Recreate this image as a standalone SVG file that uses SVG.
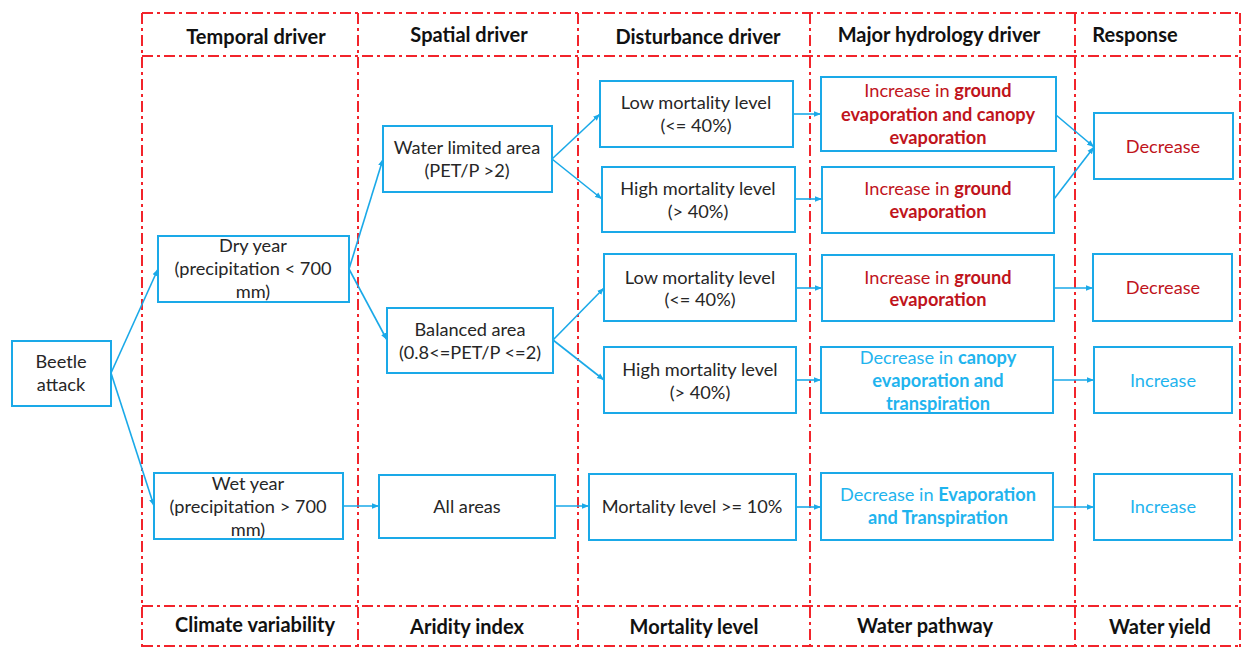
<svg xmlns="http://www.w3.org/2000/svg" width="1243" height="648" viewBox="0 0 1243 648">
<defs>
<marker id="arr" viewBox="0 0 10 10" refX="10" refY="5" markerWidth="7" markerHeight="7" markerUnits="userSpaceOnUse" orient="auto">
<path d="M0,1 L10,5 L0,9 z" fill="#1AA9E8"/>
</marker>
<style>
.grid{stroke:#F2242B;stroke-width:2;fill:none;stroke-dasharray:11 4 3 4}
.box{fill:#fff;stroke:#1AA9E8;stroke-width:2}
.t{font-family:Lato,"Liberation Sans",sans-serif;font-size:18.2px;fill:#262626;text-anchor:middle}
.h{font-family:Lato,"Liberation Sans",sans-serif;font-size:20px;font-weight:bold;fill:#111;text-anchor:middle}
.r{fill:#C0141C}
.b{fill:#1FB4EE}
.bd{font-weight:bold}
.c{stroke:#1AA9E8;stroke-width:1.6;fill:none;marker-end:url(#arr)}
</style>
</defs>
<rect width="1243" height="648" fill="#fff"/>
<g id="grid">
<line class="grid" x1="142" y1="13" x2="1240" y2="13"/>
<line class="grid" x1="142" y1="56" x2="1240" y2="56"/>
<line class="grid" x1="142" y1="606" x2="1240" y2="606"/>
<line class="grid" x1="142" y1="646" x2="1240" y2="646"/>
<line class="grid" x1="142" y1="13" x2="142" y2="648"/>
<line class="grid" x1="358" y1="13" x2="358" y2="648"/>
<line class="grid" x1="578" y1="13" x2="578" y2="648"/>
<line class="grid" x1="810" y1="13" x2="810" y2="648"/>
<line class="grid" x1="1075" y1="13" x2="1075" y2="648"/>
<line class="grid" x1="1240" y1="13" x2="1240" y2="648"/>
</g>
<g id="headers">
<text class="h" x="256" y="44">Temporal driver</text>
<text class="h" x="469" y="42">Spatial driver</text>
<text class="h" x="698" y="44">Disturbance driver</text>
<text class="h" x="939" y="42">Major hydrology driver</text>
<text class="h" x="1135" y="42">Response</text>
<text class="h" x="255" y="632">Climate variability</text>
<text class="h" x="467" y="634">Aridity index</text>
<text class="h" x="694" y="634">Mortality level</text>
<text class="h" x="925" y="633">Water pathway</text>
<text class="h" x="1160" y="634">Water yield</text>
</g>
<g id="connectors">
<line class="c" x1="111" y1="373" x2="158" y2="269"/>
<line class="c" x1="111" y1="373" x2="154" y2="506"/>
<line class="c" x1="349" y1="269" x2="383" y2="159"/>
<line class="c" x1="349" y1="269" x2="387" y2="340"/>
<line class="c" x1="343" y1="506" x2="379" y2="506"/>
<line class="c" x1="552" y1="159" x2="600" y2="114"/>
<line class="c" x1="552" y1="159" x2="602" y2="199"/>
<line class="c" x1="553" y1="340" x2="604" y2="288"/>
<line class="c" x1="553" y1="340" x2="604" y2="380"/>
<line class="c" x1="555" y1="506" x2="589" y2="506"/>
<line class="c" x1="793" y1="114" x2="821" y2="114"/>
<line class="c" x1="795" y1="199" x2="822" y2="199"/>
<line class="c" x1="796" y1="288" x2="822" y2="288"/>
<line class="c" x1="796" y1="380" x2="821" y2="380"/>
<line class="c" x1="796" y1="507" x2="821" y2="507"/>
<line class="c" x1="1056" y1="115" x2="1094" y2="147"/>
<line class="c" x1="1054" y1="199" x2="1094" y2="147"/>
<line class="c" x1="1054" y1="288" x2="1093" y2="288"/>
<line class="c" x1="1053" y1="380" x2="1094" y2="380"/>
<line class="c" x1="1053" y1="507" x2="1094" y2="507"/>
</g>
<g id="beetle"><rect class="box" x="12" y="341" width="99" height="65"/><text class="t" x="61" y="368">Beetle</text><text class="t" x="61" y="391">attack</text></g>
<g id="dry"><rect class="box" x="158" y="236" width="191" height="66"/><text class="t" x="253" y="252">Dry year</text><text class="t" x="253" y="275">(precipitation &lt; 700</text><text class="t" x="253" y="298">mm)</text></g>
<g id="wet"><rect class="box" x="154" y="473" width="189" height="66"/><text class="t" x="248" y="490">Wet year</text><text class="t" x="248" y="513">(precipitation &gt; 700</text><text class="t" x="248" y="536">mm)</text></g>
<g id="waterlimited"><rect class="box" x="383" y="126" width="169" height="66"/><text class="t" x="467" y="154">Water limited area</text><text class="t" x="467" y="177">(PET/P &gt;2)</text></g>
<g id="balanced"><rect class="box" x="387" y="308" width="166" height="65"/><text class="t" x="470" y="336">Balanced area</text><text class="t" x="470" y="359">(0.8&lt;=PET/P &lt;=2)</text></g>
<g id="allareas"><rect class="box" x="379" y="475" width="176" height="63"/><text class="t" x="467" y="513">All areas</text></g>
<g id="low1"><rect class="box" x="600" y="81" width="193" height="66"/><text class="t" x="696" y="109">Low mortality level</text><text class="t" x="696" y="132">(&lt;= 40%)</text></g>
<g id="high1"><rect class="box" x="602" y="167" width="193" height="65"/><text class="t" x="698" y="195">High mortality level</text><text class="t" x="698" y="218">(&gt; 40%)</text></g>
<g id="low2"><rect class="box" x="604" y="254" width="192" height="67"/><text class="t" x="700" y="284">Low mortality level</text><text class="t" x="700" y="306">(&lt;= 40%)</text></g>
<g id="high2"><rect class="box" x="604" y="347" width="192" height="66"/><text class="t" x="700" y="376">High mortality level</text><text class="t" x="700" y="399">(&gt; 40%)</text></g>
<g id="mort10"><rect class="box" x="589" y="474" width="207" height="66"/><text class="t" x="692" y="513">Mortality level &gt;= 10%</text></g>
<g id="inc1"><rect class="box" x="821" y="77" width="235" height="74"/><text class="t r" x="938" y="97">Increase in <tspan class="bd">ground</tspan></text><text class="t r bd" x="938" y="121">evaporation and canopy</text><text class="t r bd" x="938" y="144">evaporation</text></g>
<g id="inc2"><rect class="box" x="822" y="167" width="232" height="66"/><text class="t r" x="938" y="195">Increase in <tspan class="bd">ground</tspan></text><text class="t r bd" x="938" y="218">evaporation</text></g>
<g id="inc3"><rect class="box" x="822" y="255" width="232" height="66"/><text class="t r" x="938" y="284">Increase in <tspan class="bd">ground</tspan></text><text class="t r bd" x="938" y="306">evaporation</text></g>
<g id="deccanopy"><rect class="box" x="821" y="347" width="232" height="66"/><text class="t b" x="938" y="364">Decrease in <tspan class="bd">canopy</tspan></text><text class="t b bd" x="938" y="387">evaporation and</text><text class="t b bd" x="938" y="410">transpiration</text></g>
<g id="decevap"><rect class="box" x="821" y="473" width="232" height="67"/><text class="t b" x="938" y="501">Decrease in <tspan class="bd">Evaporation</tspan></text><text class="t b bd" x="938" y="524">and Transpiration</text></g>
<g id="dec1"><rect class="box" x="1094" y="113" width="139" height="66"/><text class="t r" x="1163" y="153">Decrease</text></g>
<g id="dec2"><rect class="box" x="1093" y="254" width="139" height="67"/><text class="t r" x="1163" y="294">Decrease</text></g>
<g id="incr1"><rect class="box" x="1094" y="347" width="138" height="66"/><text class="t b" x="1163" y="387">Increase</text></g>
<g id="incr2"><rect class="box" x="1094" y="474" width="138" height="66"/><text class="t b" x="1163" y="513">Increase</text></g>
</svg>
